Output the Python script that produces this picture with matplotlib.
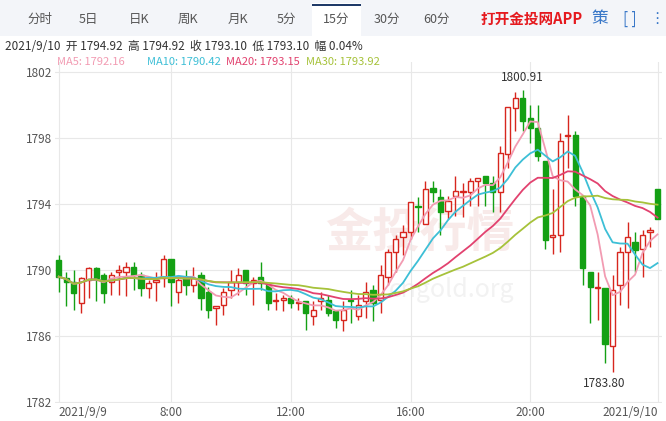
import matplotlib
matplotlib.use("Agg")
import matplotlib.pyplot as plt
import matplotlib.patches as mpatches
import numpy as np
import pandas as pd

plt.rcParams['font.family'] = ['Noto Sans CJK SC', 'DejaVu Sans']

opens = [1790.6,1789.5,1789.3,1788.0,1789.4,1790.1,1789.7,1789.3,1789.9,1789.9,
         1790.2,1789.7,1788.9,1789.3,1789.5,1790.7,1788.7,1789.6,1789.1,1789.7,
         1788.7,1787.7,1787.9,1788.8,1789.3,1790.0,1789.2,1789.6,1789.1,1788.1,
         1788.2,1788.3,1788.0,1788.1,1787.2,1788.1,1788.2,1787.5,1787.0,1788.2,
         1787.2,1788.1,1788.8,1788.2,1789.6,1791.1,1792.0,1792.3,1793.9,1792.8,
         1795.0,1794.4,1793.6,1794.5,1794.7,1794.7,1795.4,1795.7,1795.3,1794.7,
         1797.0,1799.8,1800.4,1799.2,1798.6,1796.6,1792.0,1792.1,1798.1,1798.2,
         1794.5,1789.9,1788.9,1788.9,1785.4,1789.1,1791.1,1791.7,1791.3,1792.3,
         1794.92]
highs = [1790.9,1789.9,1790.0,1789.6,1790.2,1790.2,1789.8,1789.9,1790.3,1790.5,
         1790.5,1789.9,1789.4,1789.9,1790.9,1790.7,1789.6,1790.0,1790.2,1789.9,
         1789.0,1787.8,1788.9,1790.0,1790.1,1790.0,1789.6,1790.5,1789.1,1788.6,
         1788.5,1788.5,1788.3,1788.1,1788.1,1788.7,1788.5,1787.5,1788.1,1788.8,
         1788.5,1789.3,1789.1,1790.3,1791.3,1792.1,1792.7,1794.1,1794.4,1795.4,
         1795.4,1794.9,1794.5,1795.7,1795.3,1795.6,1795.6,1795.7,1795.7,1797.5,
         1799.9,1800.8,1800.91,1800.0,1800.0,1796.6,1794.9,1798.3,1799.4,1798.4,
         1794.5,1789.9,1789.9,1788.9,1789.7,1791.4,1792.9,1792.3,1792.4,1792.6,
         1794.92]
lows = [1788.7,1787.8,1787.6,1787.4,1788.3,1788.1,1788.0,1788.5,1788.5,1788.4,
        1788.8,1788.4,1788.3,1788.1,1789.0,1787.8,1788.0,1788.5,1788.7,1787.6,
        1787.1,1786.7,1787.3,1788.3,1788.5,1788.5,1787.9,1788.8,1787.6,1787.6,
        1787.5,1787.7,1787.6,1786.4,1786.7,1787.6,1787.2,1786.5,1786.3,1786.8,
        1787.0,1787.1,1786.9,1787.4,1789.1,1789.9,1790.9,1791.9,1792.3,1793.1,
        1794.1,1792.1,1793.1,1793.3,1793.2,1793.9,1793.9,1793.9,1793.5,1793.5,
        1796.2,1798.4,1798.4,1797.7,1796.6,1791.3,1791.0,1791.1,1796.2,1793.9,
        1789.1,1786.8,1787.0,1784.4,1783.80,1787.9,1787.7,1789.9,1789.6,1791.4,
        1793.10]
closes = [1789.6,1789.3,1788.6,1789.5,1790.1,1789.5,1788.6,1789.7,1790.0,1790.2,
          1789.7,1788.9,1789.2,1789.4,1790.7,1789.3,1789.4,1789.1,1789.5,1788.3,
          1787.6,1787.8,1788.7,1789.3,1789.7,1789.2,1789.4,1789.2,1788.0,1788.2,
          1788.3,1788.0,1788.0,1787.4,1787.6,1788.3,1787.4,1787.0,1787.6,1788.1,
          1787.9,1788.7,1788.0,1789.7,1791.1,1791.9,1792.3,1794.1,1793.8,1794.9,
          1794.7,1793.5,1794.2,1794.8,1794.7,1795.4,1795.6,1795.3,1794.7,1797.1,
          1799.9,1800.4,1799.0,1798.6,1796.9,1791.8,1792.1,1797.8,1798.2,1794.5,
          1790.1,1789.0,1789.0,1785.5,1788.8,1791.1,1792.0,1791.2,1792.1,1792.4,
          1793.10]
x_tick_pos = [0, 15, 31, 47, 63, 80]
x_tick_labels = ["2021/9/9", "8:00", "12:00", "16:00", "20:00", "2021/9/10"]
y_ticks = [1782, 1786, 1790, 1794, 1798, 1802]
ma_periods = [5, 10, 20, 30]
ma_colors = ["#f29bb2", "#3dbfd6", "#e2426f", "#a6c23a"]
ma_last = ["1792.16", "1790.42", "1793.15", "1793.92"]
ma_label_x = [57, 147, 226, 306]

RED = "#d7261e"
GREEN = "#14a014"

fig = plt.figure(figsize=(6.66, 4.21), dpi=100)
W, H = 666, 421
ax = fig.add_axes([55/W, 1-403/H, 607/W, 341/H])
ax.set_ylim(1781.95, 1802.6)
ax.set_xlim(-0.5, 80.6)

# watermark
ax.text(0.6, 0.5, "金投行情", transform=ax.transAxes, fontsize=34, color="#f8eae9",
        ha="center", va="center", fontweight="bold", zorder=0)
ax.text(0.55, 0.33, "cngold.org", transform=ax.transAxes, fontsize=18, color="#f2f2f2",
        ha="left", va="center", zorder=0)

for i in range(len(opens)):
    o, h, l, c = opens[i], highs[i], lows[i], closes[i]
    up = c >= o
    col = RED if up else GREEN
    ax.vlines(i, l, h, color=col, lw=1, zorder=3)
    lo, hi = min(o, c), max(o, c)
    hgt = max(hi - lo, 0.06)
    rect = mpatches.Rectangle((i - 0.35, lo), 0.7, hgt,
                              facecolor="white" if up else GREEN,
                              edgecolor=col, lw=1, zorder=4)
    ax.add_patch(rect)

s = pd.Series(closes)
for p, col in zip(ma_periods, ma_colors):
    ax.plot(range(len(closes)), s.rolling(p, min_periods=1).mean(), color=col, lw=1.3, zorder=5)

ax.annotate("1800.91", (62, 1800.91), xytext=(0, 4), textcoords="offset points",
            ha="center", va="bottom", fontsize=8.5, color="#333333")
ax.annotate("1783.80", (74, 1783.80), xytext=(-6, -3), textcoords="offset points",
            ha="center", va="top", fontsize=8.5, color="#333333")

ax.set_yticks(y_ticks)
ax.set_yticklabels([str(v) for v in y_ticks], fontsize=8.5, color="#555555")
ax.set_xticks(x_tick_pos)
ax.set_xticklabels(x_tick_labels, fontsize=8.5, color="#555555")
lbls = ax.get_xticklabels()
lbls[0].set_ha("left"); lbls[-1].set_ha("right")
ax.tick_params(length=0, pad=2)
ax.grid(True, color="#e8e8e8", lw=0.8)
ax.set_axisbelow(True)
for sp in ax.spines.values():
    sp.set_visible(False)

# toolbar
fig.patches.append(mpatches.Rectangle((0, 1-36/H), 1, 36/H, transform=fig.transFigure,
                                      facecolor="#f3f5f9", edgecolor="none", zorder=0))
fig.patches.append(mpatches.Rectangle((312/W, 1-36/H), 49/W, 33/H, transform=fig.transFigure,
                                      facecolor="white", edgecolor="none", zorder=1))
fig.patches.append(mpatches.Rectangle((312/W, 1-6/H), 49/W, 2/H, transform=fig.transFigure,
                                      facecolor="#1f3a68", edgecolor="none", zorder=2))
tabs = [("分时", 40), ("5日", 88), ("日K", 139), ("周K", 188), ("月K", 238),
        ("5分", 286), ("15分", 336), ("30分", 387), ("60分", 436)]
for t, xp in tabs:
    fig.text(xp/W, 1-19/H, t, ha="center", va="center", fontsize=9, color="#555555", zorder=3)
fig.text(532/W, 1-19/H, "打开金投网APP", ha="center", va="center", fontsize=10.5,
         color="#e5191e", fontweight="bold", zorder=3)
fig.text(600/W, 1-19/H, "策", ha="center", va="center", fontsize=12, color="#3a78c8", zorder=3)
fig.text(630/W, 1-19/H, "[ ]", ha="center", va="center", fontsize=11, color="#3a78c8", zorder=3)
fig.text(657/W, 1-19/H, "⋮", ha="center", va="center", fontsize=11, color="#3a78c8",
         family=["DejaVu Sans"], zorder=3)

fig.text(5/W, 1-47/H, "2021/9/10  开 1794.92  高 1794.92  收 1793.10  低 1793.10  幅 0.04%",
         ha="left", va="center", fontsize=8.5, color="#333333")
for p, col, v, mx in zip(ma_periods, ma_colors, ma_last, ma_label_x):
    fig.text(mx/W, 1-62/H, f"MA{p}: {v}", ha="left", va="center", fontsize=8, color=col)

fig.savefig("out.png", dpi=100)
